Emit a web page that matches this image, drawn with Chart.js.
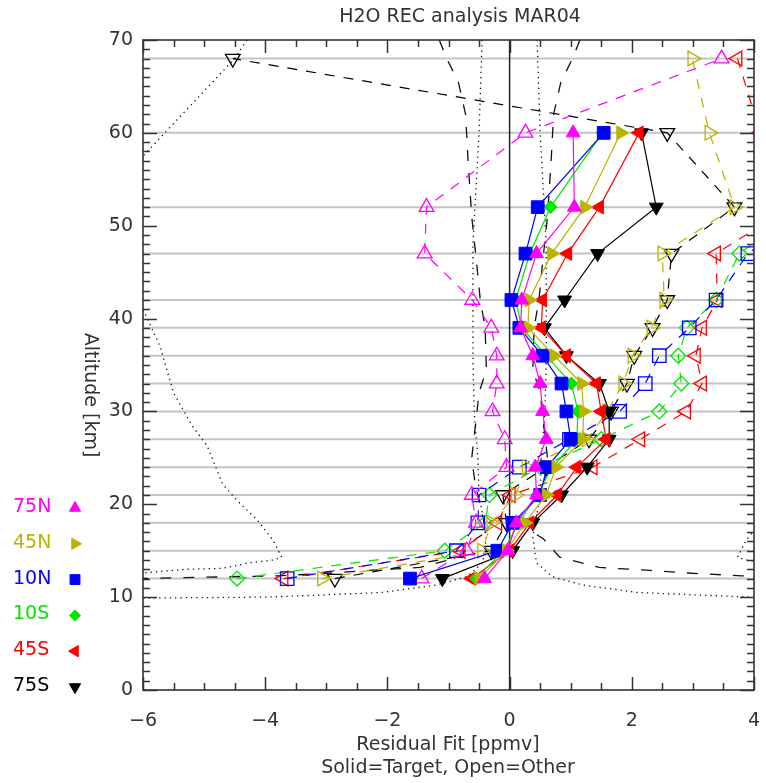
<!DOCTYPE html>
<html>
<head>
<meta charset="utf-8">
<script src="https://cdn.jsdelivr.net/npm/chart.js@4.4.1/dist/chart.umd.min.js"></script>
<style>
  body { margin: 0; background: #fff; }
  #wrap { width: 766px; height: 783px; }
</style>
</head>
<body>
<div id="wrap"><canvas id="myChart" width="766" height="783"></canvas></div>
<script>
// retrieval levels [km]
const levels = [12, 15, 18, 21, 24, 27, 30, 33, 36, 39, 42, 47, 52, 60, 68];

const bands = ['75N', '45N', '10N', '10S', '45S', '75S'];
const colors = ['#ff00ff', '#bab400', '#0000ff', '#00e600', '#ff0000', '#000000'];
const shapes = [['triangle', 0], ['triangle', 90], ['rect', 0], ['rectRot', 0], ['triangle', -90], ['triangle', 180]];

// residual fit, target retrievals (solid)
const target75N = [-0.41, -0.03, 0.11, 0.44, 0.42, 0.60, 0.54, 0.50, 0.38, 0.18, 0.20, 0.44, 1.06, 1.04, null];
const target45N = [-0.50, -0.05, 0.25, 0.60, 0.76, 1.20, 1.21, 1.18, 0.73, 0.30, 0.32, 0.69, 1.23, 1.82, null];
const target10N = [-1.63, -0.20, 0.05, 0.50, 0.61, 1.00, 0.93, 0.85, 0.54, 0.16, 0.03, 0.26, 0.46, 1.54, null];
const target10S = [-0.55, -0.10, 0.15, 0.45, 0.70, 1.10, 1.12, 1.01, 0.60, 0.20, 0.10, 0.33, 0.67, 1.52, null];
const target45S = [-0.62, 0.00, 0.33, 0.78, 1.10, 1.58, 1.50, 1.42, 0.93, 0.52, 0.54, 0.95, 1.47, 2.12, null];
const target75S = [-1.10, 0.05, 0.38, 0.85, 1.27, 1.63, 1.63, 1.47, 0.93, 0.57, 0.90, 1.44, 2.40, 2.16, null];

// residual fit, other retrievals (open, dashed)
const other75N = [-1.44, -0.70, -0.55, -0.62, -0.05, -0.08, -0.28, -0.21, -0.21, -0.30, -0.61, -1.39, -1.36, 0.26, 3.47];
const other45N = [-3.07, -0.45, -0.30, 0.10, 0.28, 1.26, 1.60, 1.86, 2.01, 2.32, 2.53, 2.50, 3.68, 3.27, 2.99];
const other10N = [-3.64, -0.87, -0.52, -0.50, 0.16, 0.98, 1.80, 2.22, 2.45, 2.94, 3.38, 3.90, 5.00, 6.00, 6.50];
const other10S = [-4.46, -1.06, -0.40, -0.33, 0.50, 1.50, 2.45, 2.81, 2.76, 2.90, 3.38, 3.76, 4.80, 5.50, 6.00];
const other45S = [-3.70, -0.80, -0.20, 0.02, 1.36, 2.14, 2.89, 3.15, 3.05, 3.15, 3.40, 3.38, 4.60, 4.10, 3.73];
const other75S = [-2.86, -0.30, -0.05, -0.11, 0.60, 1.30, 1.66, 1.92, 2.04, 2.34, 2.58, 2.65, 3.68, 2.58, -4.53];

const targets = [target75N, target45N, target10N, target10S, target45S, target75S];
const others = [other75N, other45N, other10N, other10S, other45S, other75S];

// reference envelopes, drawn as +/- pairs
const dashAlt = [70, 68, 65.5, 62, 57, 51, 46, 42, 39, 34.5, 32, 29, 25, 22.5, 19, 17, 16.3, 14.3, 13.2, 12.9, 12.6, 12.3, 12.0];
const dashVal = [1.15, 1.03, 0.84, 0.72, 0.68, 0.62, 0.54, 0.48, 0.40, 0.38, 0.50, 0.55, 0.62, 0.57, 0.45, 0.38, 0.55, 0.82, 1.47, 2.24, 2.90, 3.80, 6.10];
const dotAlt = [70, 60, 48, 36, 30, 25, 21, 18, 16.5, 13.7, 12.2, 11.3, 10.5, 10.2, 10.0, 9.9];
const dotVal = [0.45, 0.50, 0.60, 0.60, 0.58, 0.52, 0.50, 0.42, 0.38, 0.44, 0.70, 1.20, 2.10, 3.20, 4.00, 6.10];
const outerAlt = [70, 68, 57.5, 50, 41, 37, 32, 28.5, 26.3, 22.2, 20.4, 18.3, 16.1, 14.3, 14.0, 13.7, 13.1, 13.0, 12.6];
const outerVal = [4.3, 4.5, 6.0, 8.0, 6.0, 5.72, 5.5, 5.2, 4.95, 4.7, 4.46, 4.13, 3.87, 3.73, 3.87, 4.25, 4.7, 5.3, 6.0];

const xTicks = [-6, -4, -2, 0, 2, 4];
const yTicks = [0, 10, 20, 30, 40, 50, 60, 70];

const titleText = 'H2O REC analysis MAR04';
const xTitle = 'Residual Fit [ppmv]';
const xNote = 'Solid=Target, Open=Other';
const yTitle = 'Altitude [km]';

const FONT = '"DejaVu Sans", sans-serif';
const TXT = '#333';

function radiusFor(style, open) {
  if (style === 'rect') return open ? 9.5 : 9;
  if (style === 'rectRot') return open ? 7.5 : 6.5;
  return open ? 8.5 : 8;
}

const layers = [];

// level lines
levels.forEach(lev => {
  layers.push({
    data: [{x: -6, y: lev}, {x: 4, y: lev}],
    borderColor: '#c4c4c4', borderWidth: 2, pointRadius: 0
  });
});

// zero line
layers.push({
  data: [{x: 0, y: 0}, {x: 0, y: 70}],
  borderColor: '#222', borderWidth: 1.5, pointRadius: 0
});

// envelopes
[[dashAlt, dashVal, [11, 12], 1.3], [dotAlt, dotVal, [1.3, 4], 1.3], [outerAlt, outerVal, [1.3, 4], 1.3]].forEach(([alt, val, dash, w]) => {
  [1, -1].forEach(sgn => {
    layers.push({
      data: alt.map((a, i) => ({x: sgn * val[i], y: a})),
      borderColor: '#111', borderWidth: w, borderDash: dash, pointRadius: 0
    });
  });
});

// bands are plotted south to north, so 75N ends up on top
const plotOrder = [5, 4, 3, 2, 1, 0];

// other retrievals
plotOrder.forEach(k => {
  const vals = others[k];
  layers.push({
    data: levels.map((lev, i) => ({x: vals[i], y: lev})).filter(p => p.x !== null),
    borderColor: colors[k], borderWidth: 1.2, borderDash: [10, 9],
    pointStyle: shapes[k][0], pointRotation: shapes[k][1],
    pointRadius: radiusFor(shapes[k][0], true),
    pointBorderColor: colors[k], pointBackgroundColor: 'rgba(255,255,255,0)', pointBorderWidth: 1.3
  });
});

// target retrievals
plotOrder.forEach(k => {
  const vals = targets[k];
  layers.push({
    data: levels.map((lev, i) => ({x: vals[i], y: lev})).filter(p => p.x !== null),
    borderColor: colors[k], borderWidth: 1.2,
    pointStyle: shapes[k][0], pointRotation: shapes[k][1],
    pointRadius: radiusFor(shapes[k][0], false),
    pointBorderColor: colors[k], pointBackgroundColor: colors[k], pointBorderWidth: 1
  });
});

layers.forEach((d, i) => {
  d.showLine = true;
  d.fill = false;
  d.tension = 0;
  d.order = -i;
});

// frame, inward ticks, titles and the band key
const decorations = {
  id: 'decorations',
  afterDraw(chart) {
    const {ctx, chartArea: a, scales: {x, y}} = chart;
    ctx.save();
    ctx.strokeStyle = '#333';
    ctx.lineWidth = 1.6;
    ctx.strokeRect(a.left, a.top, a.right - a.left, a.bottom - a.top);

    const seg = (x1, y1, x2, y2) => { ctx.beginPath(); ctx.moveTo(x1, y1); ctx.lineTo(x2, y2); ctx.stroke(); };
    ctx.lineWidth = 1.5;
    for (let v = -6; v <= 4.001; v += 0.5) {
      const px = Math.round(x.getPixelForValue(v)) + 0.5;
      const len = Math.abs(v % 2) < 1e-6 ? 13 : 7;
      seg(px, a.bottom, px, a.bottom - len);
      seg(px, a.top, px, a.top + len);
    }
    for (let v = 0; v <= 70; v++) {
      const py = Math.round(y.getPixelForValue(v)) + 0.5;
      const len = v % 10 === 0 ? 14 : 7;
      seg(a.left, py, a.left + len, py);
      seg(a.right, py, a.right - len, py);
    }

    ctx.fillStyle = TXT;
    ctx.font = '19px ' + FONT;
    ctx.textAlign = 'center';
    ctx.textBaseline = 'middle';
    ctx.fillText(titleText, 460, 17);
    ctx.fillText(xTitle, 448, 745);
    ctx.fillText(xNote, 448, 768);

    ctx.save();
    ctx.translate(90, 395);
    ctx.rotate(Math.PI / 2);
    ctx.fillText(yTitle, 0, 0);
    ctx.restore();

    // band key
    bands.forEach((b, k) => {
      const ly = 507 + k * 35.8;
      ctx.fillStyle = colors[k];
      ctx.textAlign = 'left';
      ctx.fillText(b, 13, ly);
      ctx.strokeStyle = colors[k];
      ctx.lineWidth = 1;
      Chart.helpers.drawPoint(ctx, {
        pointStyle: shapes[k][0], rotation: shapes[k][1],
        radius: shapes[k][0] === 'rectRot' ? 5.5 : (shapes[k][0] === 'rect' ? 7 : 6.5), borderWidth: 1
      }, 75, ly + 1);
    });
    ctx.restore();
  }
};

new Chart(document.getElementById('myChart'), {
  type: 'scatter',
  data: { datasets: layers },
  options: {
    responsive: false,
    devicePixelRatio: 1,
    animation: false,
    events: [],
    layout: { padding: { left: 0, right: 12, top: 40, bottom: 0 } },
    plugins: { legend: { display: false }, tooltip: { enabled: false } },
    scales: {
      x: {
        type: 'linear', min: -6, max: 4,
        afterBuildTicks: s => { s.ticks = xTicks.map(v => ({value: v})); },
        afterFit: s => { s.height = 93; s.paddingLeft = 0; s.paddingRight = 0; },
        grid: { display: false, drawTicks: false },
        border: { display: false },
        ticks: {
          padding: 20, color: TXT, font: { family: FONT, size: 19 },
          callback: v => (v < 0 ? '\u2212' + Math.abs(v) : String(v))
        }
      },
      y: {
        type: 'linear', min: 0, max: 70,
        afterBuildTicks: s => { s.ticks = yTicks.map(v => ({value: v})); },
        afterFit: s => { s.width = 143; s.paddingTop = 0; s.paddingBottom = 0; },
        grid: { display: false, drawTicks: false },
        border: { display: false },
        ticks: { padding: 10, color: TXT, font: { family: FONT, size: 19 } }
      }
    }
  },
  plugins: [decorations]
});
</script>
</body>
</html>
